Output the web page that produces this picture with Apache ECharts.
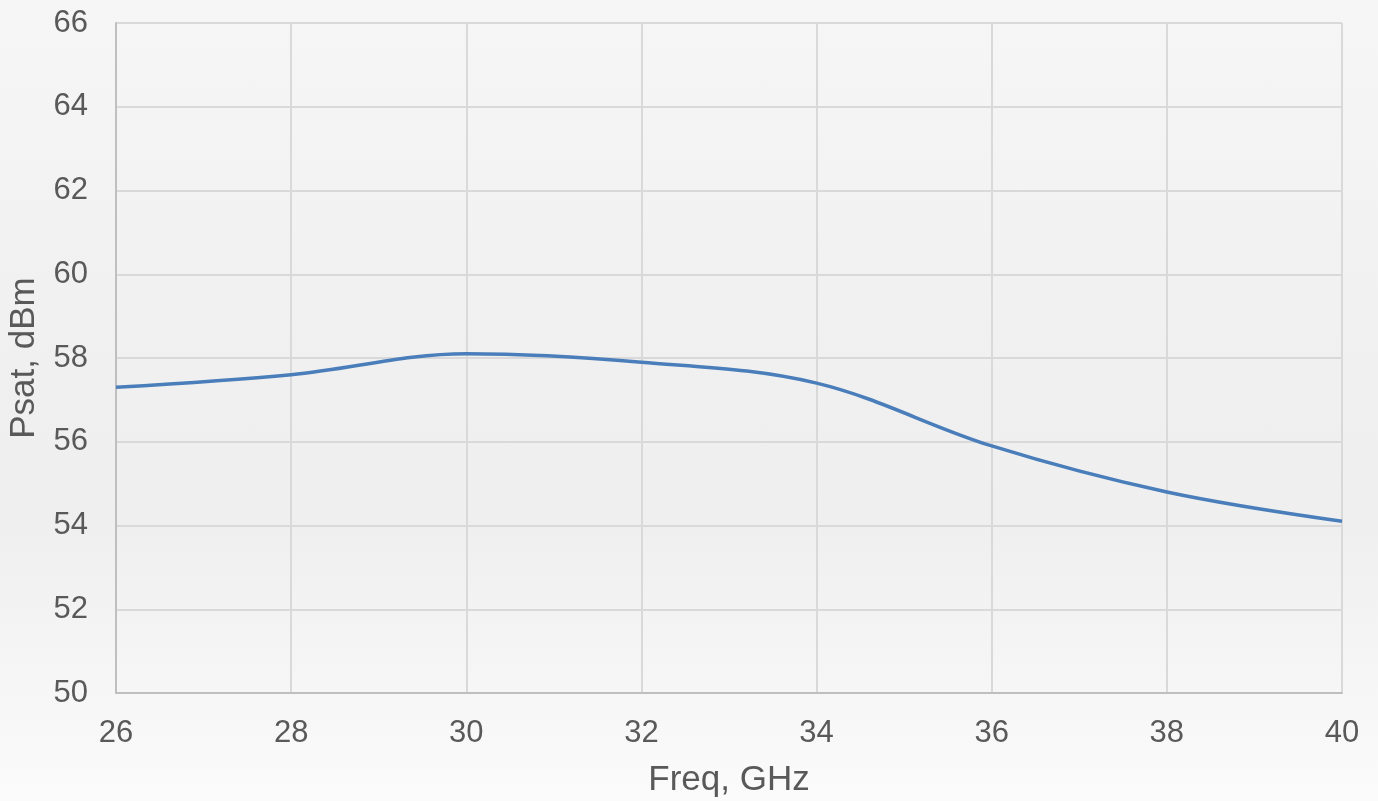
<!DOCTYPE html>
<html>
<head>
<meta charset="utf-8">
<script src="https://cdn.jsdelivr.net/npm/echarts@6/dist/echarts.min.js"></script>
<style>
html,body{margin:0;padding:0;width:1378px;height:801px;overflow:hidden;}
#c{width:1378px;height:801px;background:linear-gradient(to bottom,#f6f6f6 0%,#f0f0f0 45%,#efefef 65%,#fbfbfb 100%);}
</style>
</head>
<body>
<div id="c"></div>
<script>
const freq = [26, 28, 30, 32, 34, 36, 38, 40];
const psat = [57.3, 57.6, 58.1, 57.9, 57.4, 55.9, 54.8, 54.1];
const xTicks = [26, 28, 30, 32, 34, 36, 38, 40];
const yTicks = [50, 52, 54, 56, 58, 60, 62, 64, 66];

const chart = echarts.init(document.getElementById('c'), null, {renderer: 'canvas'});
const textColor = '#595959';
const font = '"Liberation Sans", Arial, sans-serif';
chart.setOption({
  backgroundColor: 'transparent',
  animation: false,
  grid: {left: 116, right: 36, top: 23, bottom: 108, containLabel: false, outerBoundsMode: 'none'},
  xAxis: {
    type: 'value', min: xTicks[0], max: xTicks[xTicks.length - 1], interval: 2,
    name: 'Freq, GHz', nameLocation: 'middle', nameGap: 70,
    nameTextStyle: {color: textColor, fontSize: 35, fontFamily: font},
    axisLine: {show: true, lineStyle: {color: '#bfbfbf', width: 2}},
    axisTick: {show: false},
    axisLabel: {color: textColor, fontSize: 31, fontFamily: font, margin: 25},
    splitLine: {show: true, lineStyle: {color: '#d9d9d9', width: 2}}
  },
  yAxis: {
    type: 'value', min: yTicks[0], max: yTicks[yTicks.length - 1], interval: 2,
    name: 'Psat, dBm', nameLocation: 'middle', nameGap: 74,
    nameTextStyle: {color: textColor, fontSize: 35, fontFamily: font},
    axisLine: {show: true, lineStyle: {color: '#bfbfbf', width: 2}},
    axisTick: {show: false},
    axisLabel: {color: textColor, fontSize: 31, fontFamily: font, margin: 28},
    splitLine: {show: true, lineStyle: {color: '#d9d9d9', width: 2}}
  },
  series: [{
    type: 'line',
    data: freq.map((f, i) => [f, psat[i]]),
    smooth: 0.35,
    showSymbol: false,
    lineStyle: {color: '#4a7ebb', width: 3.5}
  }]
});
</script>
</body>
</html>
